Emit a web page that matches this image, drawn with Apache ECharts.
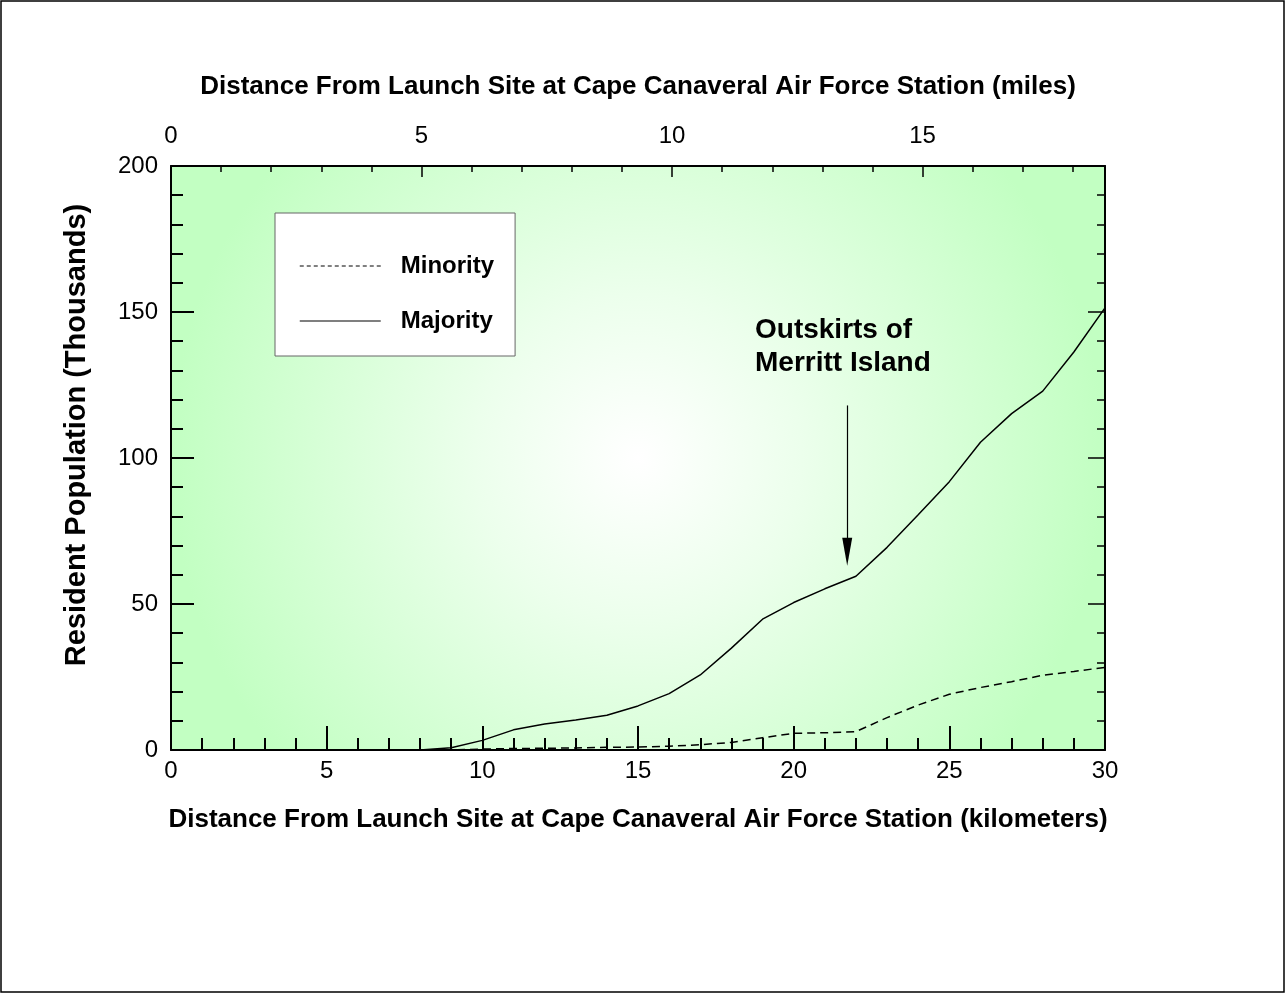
<!DOCTYPE html>
<html>
<head>
<meta charset="utf-8">
<script src="https://cdn.jsdelivr.net/npm/echarts@6/dist/echarts.min.js"></script>
<style>html,body{margin:0;padding:0;background:#fff}#c{width:1286px;height:994px}</style>
</head>
<body>
<div id="c"></div>
<script>
const distanceKm = [0,1,2,3,4,5,6,7,8,9,10,11,12,13,14,15,16,17,18,19,20,21,22,23,24,25,26,27,28,29,30];
const majority = [0,0,0,0,0,0,0,0,0,0.8,3.3,6.9,8.9,10.3,11.9,15.1,19.3,25.7,34.9,44.8,50.5,55.2,59.5,69.4,80.6,91.9,105.4,115.2,122.9,136.3,151.4];
const minority = [0,0,0,0,0,0,0,0,0,0,0.3,0.5,0.6,0.7,0.9,1.0,1.3,1.8,2.6,4.2,5.7,5.9,6.3,11.1,15.4,19.1,21.4,23.4,25.6,26.9,28.3];
const seriesNames = ['Minority','Majority'];
const kmPerMile = 1.609344;
const kmMax = 30;
const popMax = 200;
const arrowFrom = [21.72, 118];
const arrowTo = [21.72, 67.9];
const annotationText = 'Outskirts of\nMerritt Island';
const titleMiles = 'Distance From Launch Site at Cape Canaveral Air Force Station (miles)';
const titleKm = 'Distance From Launch Site at Cape Canaveral Air Force Station (kilometers)';
const titleY = 'Resident Population (Thousands)';

const FONT = '"Liberation Sans", Arial, sans-serif';
const chart = echarts.init(document.getElementById('c'), null, {renderer:'canvas'});
const pair = (xs, ys) => xs.map((x,i)=>[x, ys[i]]);
const hiddenSymbol = {opacity:0, borderWidth:0};

chart.setOption({
  animation:false,
  textStyle:{fontFamily:FONT},
  grid:{left:171, right:181, top:166, bottom:244, show:true, borderWidth:0,
    backgroundColor:{type:'radial', x:0.5, y:0.5, r:0.8,
      colorStops:[{offset:0,color:'#ffffff'},{offset:0.35,color:'#ecffec'},{offset:1,color:'#c2ffc2'}]}},
  legend:{
    left:275, top:213, orient:'vertical',
    data:[
      {name:seriesNames[0], itemStyle:hiddenSymbol, lineStyle:{type:[4,3], width:1, color:'#000'}},
      {name:seriesNames[1], itemStyle:hiddenSymbol, lineStyle:{type:'solid', width:1.5, color:'#555'}}
    ],
    itemWidth:81, itemHeight:24, itemGap:31,
    padding:[41,21,23,24],
    backgroundColor:'#fff', borderColor:'#666', borderWidth:1, borderRadius:0,
    textStyle:{fontFamily:FONT, fontSize:24, fontWeight:'bold', color:'#000', padding:[0,0,0,15]},
    selectedMode:false
  },
  xAxis:[
    {type:'value', position:'bottom', min:0, max:kmMax, interval:5,
      axisLine:{show:true, lineStyle:{color:'#000', width:2}},
      axisTick:{show:true, inside:true, length:24, lineStyle:{color:'#000', width:2}},
      minorTick:{show:true, splitNumber:5, length:12, lineStyle:{color:'#000', width:2}},
      splitLine:{show:false},
      axisLabel:{margin:9, fontSize:24, color:'#000', fontFamily:FONT}},
    {type:'value', position:'top', min:0, max:kmMax/kmPerMile, interval:5,
      axisLine:{show:true, onZero:false, lineStyle:{color:'#000', width:2}},
      axisTick:{show:true, inside:true, length:11, lineStyle:{color:'#000', width:1.5}},
      splitLine:{show:false},
      axisLabel:{margin:18, fontSize:24, color:'#000', fontFamily:FONT, showMaxLabel:false}},
    {type:'value', position:'top', min:0, max:kmMax/kmPerMile, interval:1,
      axisLine:{show:false, onZero:false},
      axisTick:{show:true, inside:true, length:6, lineStyle:{color:'#000', width:1.5}},
      splitLine:{show:false},
      axisLabel:{show:false}}
  ],
  yAxis:[
    {type:'value', position:'left', min:0, max:popMax, interval:50,
      axisLine:{show:true, lineStyle:{color:'#000', width:2}},
      axisTick:{show:true, inside:true, length:23, lineStyle:{color:'#000', width:2}},
      minorTick:{show:true, splitNumber:5, length:12, lineStyle:{color:'#000', width:2}},
      splitLine:{show:false},
      axisLabel:{margin:13, fontSize:24, color:'#000', fontFamily:FONT}},
    {type:'value', position:'right', min:0, max:popMax, interval:50,
      axisLine:{show:true, onZero:false, lineStyle:{color:'#000', width:2}},
      axisTick:{show:true, inside:true, length:17, lineStyle:{color:'#000', width:1.5}},
      minorTick:{show:true, splitNumber:5, length:8, lineStyle:{color:'#000', width:1.5}},
      splitLine:{show:false},
      axisLabel:{show:false}}
  ],
  series:[
    {name:seriesNames[0], type:'line', xAxisIndex:0, yAxisIndex:0, data:pair(distanceKm, minority),
      showSymbol:false, symbol:'none', lineStyle:{color:'#000', width:1.5, type:[8,5]}, itemStyle:{color:'#000'}, z:3},
    {name:seriesNames[1], type:'line', xAxisIndex:0, yAxisIndex:0, data:pair(distanceKm, majority),
      showSymbol:false, symbol:'none', lineStyle:{color:'#000', width:1.5}, itemStyle:{color:'#000'}, z:4,
      markLine:{silent:true, symbol:['none','triangle'], symbolSize:[10,28],
        label:{show:false},
        lineStyle:{color:'#000', width:1.2, type:'solid'},
        data:[[{coord:arrowFrom},{coord:arrowTo}]]}}
  ],
  graphic:[
    {type:'rect', shape:{x:1, y:1, width:1283, height:991}, style:{fill:'none', stroke:'#000', lineWidth:1.5}, silent:true, z:-1},
    {type:'text', x:638, y:87, style:{text:titleMiles, font:'bold 26px '+FONT, fill:'#000', align:'center', verticalAlign:'middle'}},
    {type:'text', x:638, y:820, style:{text:titleKm, font:'bold 26px '+FONT, fill:'#000', align:'center', verticalAlign:'middle'}},
    {type:'text', x:77, y:435, rotation:Math.PI/2, style:{text:titleY, font:'bold 29px '+FONT, fill:'#000', align:'center', verticalAlign:'middle'}},
    {type:'text', x:755, y:314, style:{text:annotationText, font:'bold 28px '+FONT, lineHeight:33, fill:'#000', align:'left', verticalAlign:'top'}}
  ]
});
</script>
</body>
</html>
